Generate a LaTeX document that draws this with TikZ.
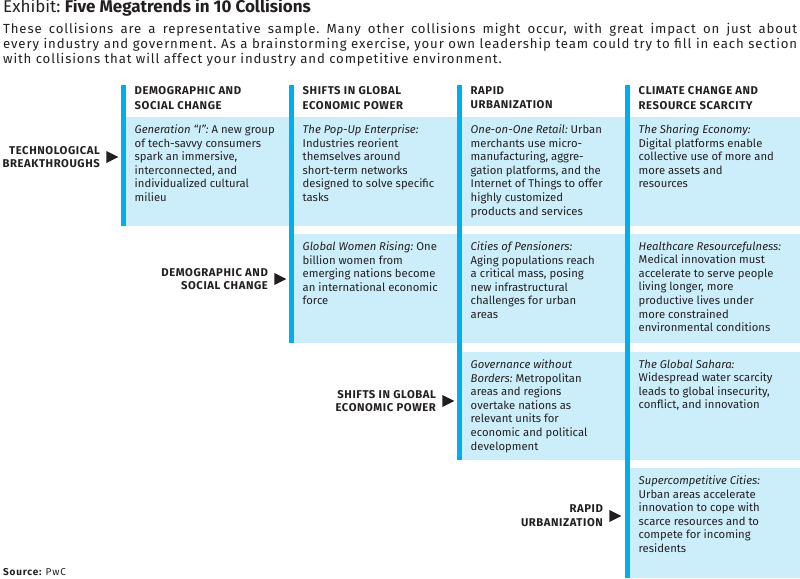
\documentclass[tikz,border=0pt]{standalone}
\usepackage{fontspec}
\setmainfont{Fira Sans}
\usetikzlibrary{positioning,shapes.geometric}
\definecolor{ink}{HTML}{231F20}
\definecolor{barblue}{HTML}{00AEEF}
\definecolor{cellblue}{HTML}{CCEEFB}
\frenchspacing

\begin{document}
\begin{tikzpicture}[x=1pt, y=-1pt, color=ink,
  head/.style = {anchor=north west, inner sep=0, align=left, font=\bfseries\fontsize{11.3}{14.4}\selectfont\addfontfeatures{LetterSpace=5}},
  cell/.style = {anchor=north west, inner sep=0, align=left, font=\fontsize{11.3}{13.6}\selectfont},
  trend/.style = {inner sep=0, align=right, font=\bfseries\fontsize{11.3}{13.8}\selectfont\addfontfeatures{LetterSpace=5}},
  marker/.style = {isosceles triangle, isosceles triangle stretches, fill=ink, inner sep=0, minimum width=12pt, minimum height=12pt},
  bar/.style = {fill=barblue},
  band/.style = {fill=cellblue}]
  \useasboundingbox (0,0) rectangle (800,578);

  \node[anchor=base west, inner sep=0, font=\fontsize{17}{20}\selectfont] (title) at (3,13)
    {Exhibit: \textbf{Five Megatrends in 10 Collisions}};
  \node[anchor=north west, inner sep=0, text width=794pt, align=justify, font=\fontsize{13.2}{14.6}\selectfont\addfontfeatures{LetterSpace=6.5}] (intro) at (3,23.5)
    {These collisions are a representative sample. Many other collisions might occur, with great impact on just about\linebreak
     every industry and government. As a brainstorming exercise, your own leadership team could try to fill in each section\linebreak
     with collisions that will affect your industry and competitive environment.};

  \fill[band] (121,117) rectangle (800,226);
  \fill[band] (289,234) rectangle (800,343);
  \fill[band] (457,352) rectangle (800,460);
  \fill[band] (625,468) rectangle (800,578);
  \fill[bar] (121,85) rectangle (126,226);
  \fill[bar] (289,85) rectangle (294,343);
  \fill[bar] (457,85) rectangle (462,460);
  \fill[bar] (625,85) rectangle (630,578);

  \node[head] (demog) at (134.5,86.5) {DEMOGRAPHIC AND\\SOCIAL CHANGE};
  \node[head] (shifts) at (302.5,86.5) {SHIFTS IN GLOBAL\\ECONOMIC POWER};
  \node[head] (urban) at (470.5,86.5) {RAPID\\URBANIZATION};
  \node[head] (climate) at (638.5,86.5) {CLIMATE CHANGE AND\\RESOURCE SCARCITY};

  \node[marker] (m1) at (110,157) {};
  \node[marker] (m2) at (278,279) {};
  \node[marker] (m3) at (446,401) {};
  \node[marker] (m4) at (613,516) {};
  \node[trend, left=6pt of m1] (tech) {TECHNOLOGICAL\\BREAKTHROUGHS};
  \node[trend, left=6pt of m2] (demogrow) {DEMOGRAPHIC AND\\SOCIAL CHANGE};
  \node[trend, left=6pt of m3] (shiftsrow) {SHIFTS IN GLOBAL\\ECONOMIC POWER};
  \node[trend, left=6pt of m4] (urbanrow) {RAPID\\URBANIZATION};

  \node[cell] (geni) at (134.5,124.5) {\textit{Generation \textquotedblleft I\textquotedblright:} A new group\\of tech-savvy consumers\\spark an immersive,\\interconnected, and\\individualized cultural\\milieu};
  \node[cell] (popup) at (302.5,124.5) {\textit{The Pop-Up Enterprise:}\\Industries reorient\\themselves around\\short-term networks\\designed to solve specific\\tasks};
  \node[cell] (retail) at (470.5,124.5) {\textit{One-on-One Retail:} Urban\\merchants use micro-\\manufacturing, aggre-\\gation platforms, and the\\Internet of Things to offer\\highly customized\\products and services};
  \node[cell] (sharing) at (638.5,124.5) {\textit{The Sharing Economy:}\\Digital platforms enable\\collective use of more and\\more assets and\\resources};

  \node[cell] (women) at (302.5,241.5) {\textit{Global Women Rising:} One\\billion women from\\emerging nations become\\an international economic\\force};
  \node[cell] (pension) at (470.5,241.5) {\textit{Cities of Pensioners:}\\Aging populations reach\\a critical mass, posing\\new infrastructural\\challenges for urban\\areas};
  \node[cell] (health) at (638.5,241.5) {\textit{Healthcare Resourcefulness:}\\Medical innovation must\\accelerate to serve people\\living longer, more\\productive lives under\\more constrained\\environmental conditions};

  \node[cell] (govern) at (470.5,359.5) {\textit{Governance without}\\\textit{Borders:} Metropolitan\\areas and regions\\overtake nations as\\relevant units for\\economic and political\\development};
  \node[cell] (sahara) at (638.5,359.5) {\textit{The Global Sahara:}\\Widespread water scarcity\\leads to global insecurity,\\conflict, and innovation};

  \node[cell] (supercity) at (638.5,475.5) {\textit{Supercompetitive Cities:}\\Urban areas accelerate\\innovation to cope with\\scarce resources and to\\compete for incoming\\residents};

  \node[anchor=base west, inner sep=0, font=\fontsize{10}{11}\selectfont\addfontfeatures{LetterSpace=8}] (source) at (3,575)
    {\textbf{Source:} PwC};
\end{tikzpicture}
\end{document}
